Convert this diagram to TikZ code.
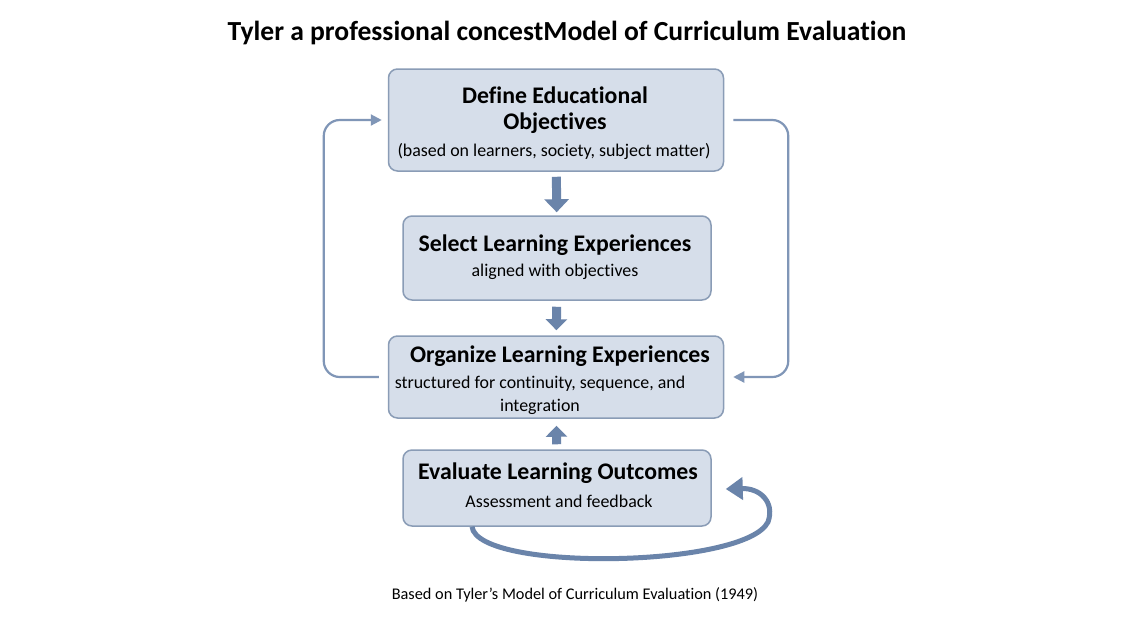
\documentclass[tikz,border=0pt]{standalone}
\usepackage{fontspec}
\setmainfont{Carlito}[Ligatures=CommonOff]
\usetikzlibrary{arrows.meta}
\definecolor{boxfill}{HTML}{D6DEEA}
\definecolor{boxline}{HTML}{8A9CB6}
\definecolor{flowblue}{HTML}{6A84AA}
\tikzset{
  stage/.style={draw=boxline, fill=boxfill, rounded corners=9pt, line width=1.5pt, align=center, inner sep=0pt},
  blockarrow/.style={flowblue, line width=9pt, -{Triangle[width=24pt,length=13pt]}},
  loopline/.style={flowblue!85, line width=2.2pt, rounded corners=16pt, -{Triangle[width=11pt,length=11pt]}},
  head/.style={font=\fontsize{23.8}{28}\selectfont\bfseries},
  sub/.style={font=\fontsize{17.9}{22}\selectfont}
}
\begin{document}
\begin{tikzpicture}[x=1pt,y=-1pt]
\useasboundingbox[fill=white] (0,0) rectangle (1140,622);
% title
\node (title) at (567,33) {\fontsize{27.6}{32}\selectfont\bfseries Tyler a professional concestModel of Curriculum Evaluation};
% the four stages
\node[stage, minimum width=335pt, minimum height=102pt] (def) at (556,120) {};
\node[head] at (555,95) {Define Educational};
\node[head] at (555,123) {Objectives};
\node[sub] at (554,151) {(based on learners, society, subject matter)};
\node[stage, minimum width=308pt, minimum height=84pt] (sel) at (557,258) {};
\node[head] at (555,245) {Select Learning Experiences};
\node[sub] at (555,272) {aligned with objectives};
\node[stage, minimum width=335pt, minimum height=82pt] (org) at (556,377) {};
\node[head] at (560,356) {Organize Learning Experiences};
\node[sub] at (540,384) {structured for continuity, sequence, and};
\node[sub] at (540,407) {integration};
\node[stage, minimum width=308pt, minimum height=76pt] (ev) at (557,488) {};
\node[head] at (558,473) {Evaluate Learning Outcomes};
\node[sub] at (559,501) {Assessment and feedback};
% flow between stages
\draw[blockarrow, shorten <=5pt, shorten >=3pt] (def) -- (sel);
\draw[blockarrow, shorten <=6pt, shorten >=5pt, -{Triangle[width=21pt,length=11pt]}] (sel) -- (org);
\draw[blockarrow, shorten <=5pt, shorten >=7pt, -{Triangle[width=21pt,length=11pt]}] (ev) -- (org);
% side loops
\draw[loopline] ([xshift=-9pt]org.west) -| ([xshift=-64pt]def.west) -- ([xshift=-6pt]def.west);
\draw[loopline] ([xshift=9pt]def.east) -| ([xshift=64pt]org.east) -- ([xshift=9pt]org.east);
% feedback curve
\draw[flowblue, line width=5pt, -{Triangle[width=22pt,length=17pt]}] ([xshift=-85pt]ev.south) .. controls (478,572) and (745,568) .. (768,522) .. controls (775,502) and (760,488) .. ([xshift=14pt,yshift=-1pt]ev.east);
\node (note) at (575,595) {\fontsize{16.3}{19}\selectfont Based on Tyler’s Model of Curriculum Evaluation (1949)};
\end{tikzpicture}
\end{document}
